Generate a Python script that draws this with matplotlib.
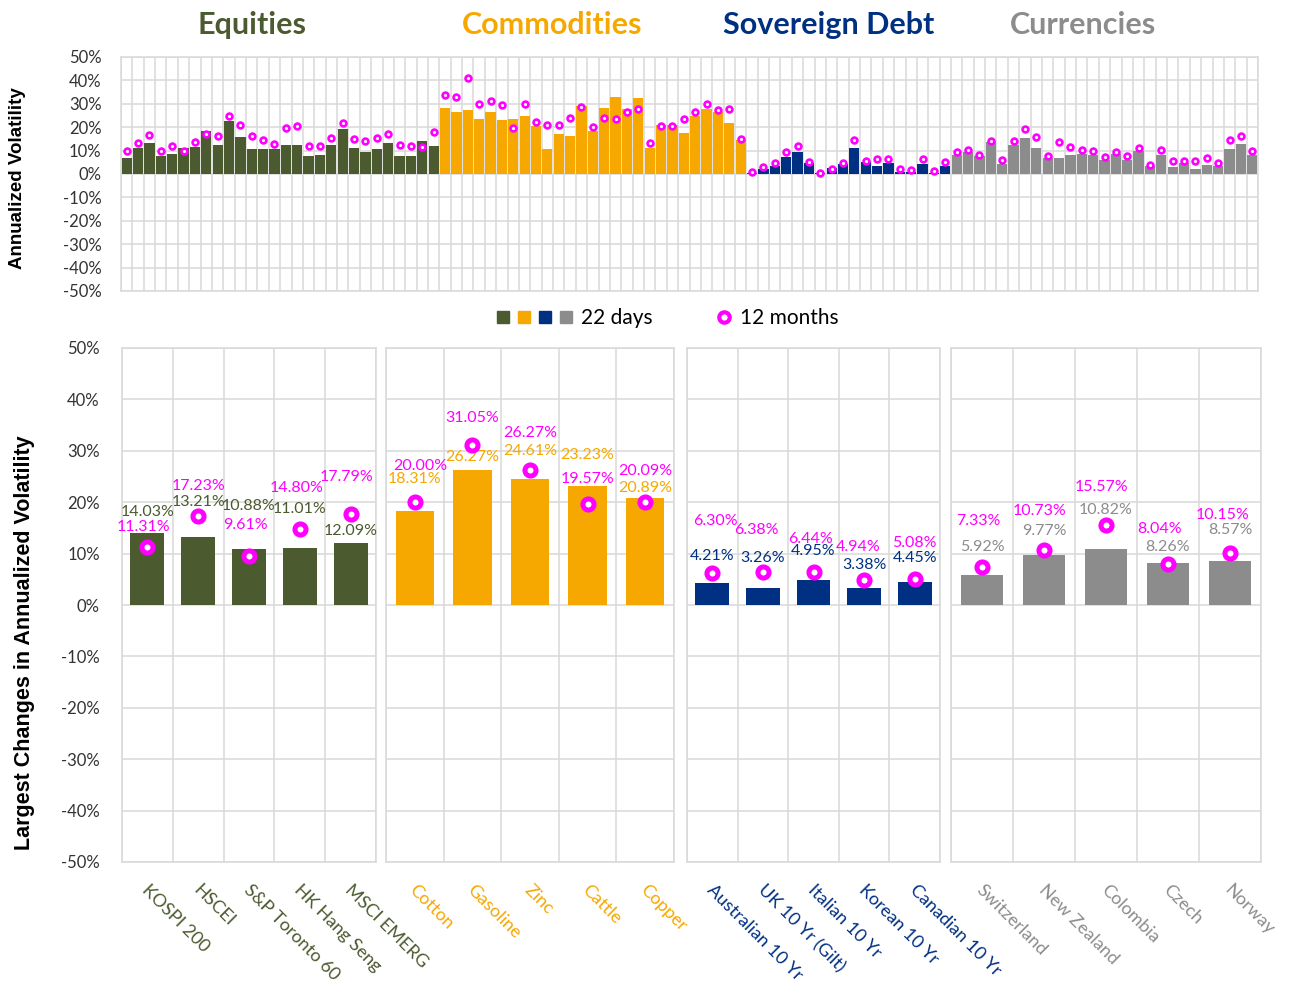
import numpy as np
import matplotlib.pyplot as plt
from matplotlib.lines import Line2D
from matplotlib.legend_handler import HandlerTuple
from matplotlib.transforms import ScaledTranslation

plt.rcParams['font.family'] = ['Lato', 'DejaVu Sans']

groups = ['Equities', 'Commodities', 'Sovereign Debt', 'Currencies']
group_colors = ['#4b5a2f', '#f6a800', '#003082', '#8c8c8c']
ring_color = '#ff00ff'
grid_color = '#d9d9d9'

# top chart: annualized volatility (%) for every instrument in a group
eq_22d = [6.7, 11.0, 13.4, 7.7, 8.4, 11.0, 11.7, 18.4, 12.4, 22.6, 15.6, 10.6, 10.6, 10.6,
          12.4, 12.4, 7.9, 8.1, 12.4, 19.4, 11.1, 9.6, 10.6, 13.3, 7.7, 7.7, 14.3, 12.0]
eq_12m = [10.0, 13.4, 16.7, 9.7, 12.0, 9.7, 13.6, 17.0, 16.4, 24.6, 21.0, 16.4, 14.7, 13.0,
          19.6, 20.4, 12.0, 12.0, 15.4, 22.0, 14.9, 14.1, 15.3, 17.3, 12.6, 12.0, 11.4, 17.9]
com_22d = [28.1, 26.7, 27.4, 23.6, 26.4, 23.1, 23.4, 24.6, 20.3, 10.7, 16.9, 16.3, 28.9, 18.4,
           28.1, 33.0, 27.6, 32.4, 11.3, 20.9, 20.9, 17.6, 24.7, 27.6, 26.7, 22.0, 14.4]
com_12m = [33.6, 32.9, 41.0, 30.0, 31.1, 29.7, 19.7, 30.0, 22.3, 21.1, 21.0, 24.1, 28.7, 20.0,
           24.1, 23.4, 26.3, 27.9, 13.4, 20.3, 20.3, 23.3, 26.3, 29.9, 27.3, 27.9, 15.0]
sov_22d = [0.3, 2.1, 3.6, 7.4, 9.6, 4.6, 0.3, 2.4, 4.3, 11.1, 5.0, 3.3, 4.9, 0.9, 0.7, 4.3, 0.4, 3.4]
sov_12m = [1.0, 2.9, 4.7, 9.6, 12.1, 5.1, 0.6, 2.0, 4.9, 14.4, 5.4, 6.6, 6.6, 2.0, 1.9, 6.4, 1.3, 5.1]
cur_22d = [8.0, 9.4, 7.7, 13.7, 4.3, 12.4, 15.4, 10.9, 7.0, 7.0, 8.1, 8.6, 8.1, 6.0,
           8.4, 5.9, 9.9, 3.6, 8.3, 3.0, 4.7, 2.3, 4.0, 3.4, 10.6, 12.9, 8.3]
cur_12m = [9.6, 10.4, 8.1, 14.1, 5.9, 14.3, 19.4, 15.7, 7.9, 13.6, 11.6, 10.3, 9.9, 7.4,
           9.6, 7.9, 10.9, 4.0, 10.3, 5.6, 5.7, 5.6, 6.9, 4.7, 14.4, 16.3, 9.9]

# bottom chart: largest changes per group
names = [
    ['KOSPI 200', 'HSCEI', 'S&P Toronto 60', 'HK Hang Seng', 'MSCI EMERG'],
    ['Cotton', 'Gasoline', 'Zinc', 'Cattle', 'Copper'],
    ['Australian 10 Yr', 'UK 10 Yr (Gilt)', 'Italian 10 Yr', 'Korean 10 Yr', 'Canadian 10 Yr'],
    ['Switzerland', 'New Zealand', 'Colombia', 'Czech', 'Norway'],
]
big_22d = [
    [14.03, 13.21, 10.88, 11.01, 12.09],
    [18.31, 26.27, 24.61, 23.23, 20.89],
    [4.21, 3.26, 4.95, 3.38, 4.45],
    [5.92, 9.77, 10.82, 8.26, 8.57],
]
big_12m = [
    [11.31, 17.23, 9.61, 14.80, 17.79],
    [20.00, 31.05, 26.27, 19.57, 20.09],
    [6.30, 6.38, 6.44, 4.94, 5.08],
    [7.33, 10.73, 15.57, 8.04, 10.15],
]

# label offsets above bar top / ring (pixels)
off_22d = [[21, 35, 43, 39, 12], [32, 13, 28, 31, 10], [27, 30, 29, 23, 24], [28, 24, 39, 16, 31]]
off_12m = [[20, 30, 31, 41, 37], [36, 27, 37, 25, 31], [52, 42, 33, 33, 36], [46, 39, 38, 35, 38]]
dx_12m = [[-4, 0, -4, -3, -4], [5, 0, 0, 0, 0], [3, -7, -3, -6, 0], [-4, -4, -4, -8, -7]]

W, H = 1290, 981
fig = plt.figure(figsize=(W / 100, H / 100), dpi=100)


def fx(px):
    return px / W


def fy(py):
    return 1 - py / H


yticks = np.arange(-50, 51, 10)
ylabels = ['%d%%' % v for v in yticks]

# ---------- top chart ----------
tops = [eq_22d, com_22d, sov_22d, cur_22d]
rings = [eq_12m, com_12m, sov_12m, cur_12m]
vals22 = np.concatenate(tops)
vals12 = np.concatenate(rings)
cols = np.concatenate([[c] * len(t) for c, t in zip(group_colors, tops)])
x = np.arange(len(vals22))

ax = fig.add_axes([fx(121), fy(291), fx(1258 - 121), (291 - 57) / H])
ax.bar(x, vals22, width=0.9, color=cols, zorder=2)
ax.plot(x, vals12, 'o', ms=4.2, mfc='white', mec=ring_color, mew=1.9, zorder=3)
ax.set_xlim(-0.5, len(x) - 0.5)
ax.set_ylim(-50, 50)
ax.set_xticks(np.arange(-0.5, len(x), 1))
ax.set_xticklabels([])
ax.set_yticks(yticks)
ax.set_yticklabels(ylabels, fontsize=12, color='#333333')
ax.tick_params(length=0, pad=14)
ax.grid(True, color=grid_color, lw=1.1, zorder=0)
for s in ax.spines.values():
    s.set_color(grid_color)
    s.set_linewidth(1.1)

# group titles
for name, c, px in zip(groups, group_colors, [252, 552, 829, 1083]):
    fig.text(fx(px), fy(25), name, color=c, fontsize=22, fontweight='bold',
             ha='center', va='center')

fig.text(fx(18), fy(178), 'Annualized Volatility', rotation=90, fontsize=13.5,
         fontweight='bold', family='Liberation Sans', ha='center', va='center')
fig.text(fx(25), fy(643), 'Largest Changes in Annualized Volatility', rotation=90,
         fontsize=15.5, fontweight='bold', family='Liberation Sans', ha='center', va='center')

# legend
squares = tuple(Line2D([], [], ls='none', marker='s', ms=8, color=c) for c in group_colors)
fig.legend(handles=[squares], labels=['22 days'], loc='center left',
           bbox_to_anchor=(fx(482), fy(318)), frameon=False, fontsize=15, borderpad=0,
           handlelength=4.05, handletextpad=0.2,
           handler_map={tuple: HandlerTuple(ndivide=None, pad=0)})
ring_h = Line2D([], [], ls='none', marker='o', ms=7.5, mfc='white', mec=ring_color, mew=3)
fig.legend(handles=[ring_h], labels=['12 months'], loc='center left',
           bbox_to_anchor=(fx(703), fy(318)), frameon=False, fontsize=15, borderpad=0,
           handlelength=1.0, handletextpad=0.27)

# ---------- bottom panels ----------
panels = [(122, 376), (386, 674), (687, 940), (951, 1261)]
for g, (x0, x1) in enumerate(panels):
    a = fig.add_axes([fx(x0), fy(862), fx(x1 - x0), (862 - 348) / H])
    xi = np.arange(len(names[g]))
    c = group_colors[g]
    a.bar(xi, big_22d[g], width=0.67, color=c, zorder=2)
    a.plot(xi, big_12m[g], 'o', ms=8, mfc='white', mec=ring_color, mew=3.6, zorder=4)
    for i in xi:
        a.annotate('%.2f%%' % big_22d[g][i], (i, big_22d[g][i]), xytext=(0, off_22d[g][i]),
                   textcoords='offset pixels', ha='center', va='center',
                   fontsize=11.5, color=c, zorder=3)
        a.annotate('%.2f%%' % big_12m[g][i], (i, big_12m[g][i]),
                   xytext=(dx_12m[g][i], off_12m[g][i]), textcoords='offset pixels',
                   ha='center', va='center', fontsize=11.5, color=ring_color, zorder=3)
    a.set_xlim(-0.5, len(xi) - 0.5)
    a.set_ylim(-50, 50)
    a.set_yticks(yticks)
    if g == 0:
        a.set_yticklabels(ylabels, fontsize=12, color='#333333')
    else:
        a.set_yticklabels([])
    a.set_xticks(xi)
    a.set_xticklabels(names[g], rotation=-45, ha='left', va='top',
                      rotation_mode='anchor', fontsize=13, color=c)
    a.set_xticks(np.arange(-0.5, len(xi), 1), minor=True)
    a.tick_params(which='both', length=0)
    a.tick_params(axis='x', pad=14)
    a.tick_params(axis='y', pad=16)
    a.grid(True, which='minor', axis='x', color=grid_color, lw=1.1, zorder=0)
    a.grid(True, which='major', axis='y', color=grid_color, lw=1.1, zorder=0)
    for s in a.spines.values():
        s.set_color(grid_color)
        s.set_linewidth(1.1)
    shift = ScaledTranslation(3 / 100, 0, fig.dpi_scale_trans)
    for lbl in a.get_xticklabels():
        lbl.set_transform(lbl.get_transform() + shift)

fig.savefig('out.png', dpi=100)
